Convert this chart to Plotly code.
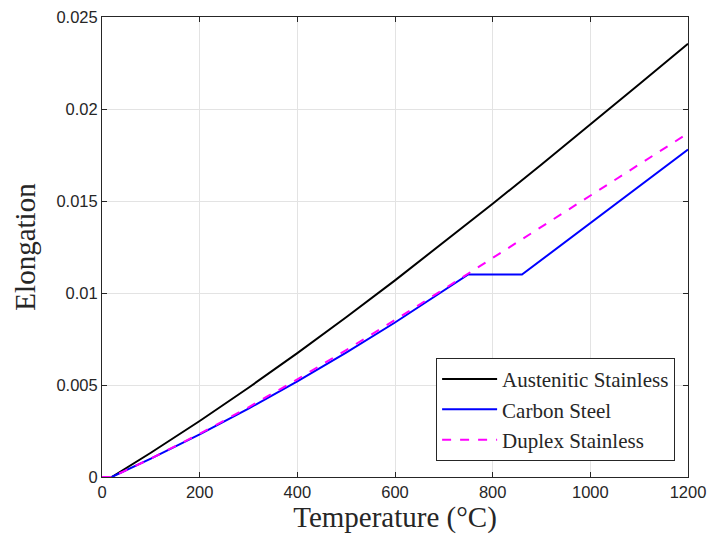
import plotly.graph_objects as go

# Temperature (deg C) and elongation values
aus_T = [20, 100, 200, 300, 400, 500, 600, 700, 800, 900, 1000, 1100, 1200]
aus_E = [0.0, 0.001317, 0.003044, 0.004851, 0.006733, 0.008680, 0.010687,
         0.012746, 0.014849, 0.016988, 0.019156, 0.021346, 0.023550]

cs_T = [20, 100, 200, 300, 400, 500, 600, 700, 750, 860, 900, 1000, 1100, 1200]
cs_E = [0.0, 0.000998, 0.002318, 0.003718, 0.005198, 0.006758, 0.008398,
        0.010118, 0.011008, 0.011000, 0.011800, 0.013800, 0.015800, 0.017800]

dup_T = [0, 20, 100, 200, 300, 400, 500, 600, 700, 750, 800, 900, 1000, 1100, 1200]
dup_E = [0.0, 0.0, 0.00100, 0.00235, 0.00379, 0.00531, 0.00690, 0.00853,
         0.01021, 0.01106, 0.01190, 0.01358, 0.01527, 0.01697, 0.01868]

x_ticks = [0, 200, 400, 600, 800, 1000, 1200]
y_ticks = [0, 0.005, 0.01, 0.015, 0.02, 0.025]
y_tick_text = ["0", "0.005", "0.01", "0.015", "0.02", "0.025"]

fig = go.Figure()
fig.add_trace(go.Scatter(x=aus_T, y=aus_E, mode="lines", name="Austenitic Stainless",
                         line=dict(color="black", width=2)))
fig.add_trace(go.Scatter(x=cs_T, y=cs_E, mode="lines", name="Carbon Steel",
                         line=dict(color="blue", width=2)))
fig.add_trace(go.Scatter(x=dup_T, y=dup_E, mode="lines", name="Duplex Stainless",
                         line=dict(color="magenta", width=2, dash="dash")))

axis_common = dict(
    showline=True, linecolor="#262626", linewidth=1, mirror="ticks",
    ticks="inside", ticklen=5, tickcolor="#262626", automargin=False,
    showgrid=True, gridcolor="#e3e3e3", gridwidth=1, zeroline=False,
    tickfont=dict(family="Liberation Sans, Arial, sans-serif", size=16.5, color="#262626"),
)

fig.update_xaxes(range=[0, 1200], tickvals=x_ticks, ticktext=[str(v) for v in x_ticks],
                 title=dict(text="Temperature (°C)", standoff=6,
                            font=dict(family="Liberation Serif, Times New Roman, serif",
                                      size=29, color="#262626")),
                 **axis_common)
fig.update_yaxes(range=[0, 0.025], tickvals=y_ticks, ticktext=y_tick_text,
                 title=dict(text="Elongation", standoff=12,
                            font=dict(family="Liberation Serif, Times New Roman, serif",
                                      size=29, color="#262626")),
                 **axis_common)

fig.update_layout(
    width=711, height=540,
    margin=dict(l=102, r=23, t=17, b=63),
    paper_bgcolor="white", plot_bgcolor="white",
    showlegend=True,
    legend=dict(x=0.978, y=0.035, xanchor="right", yanchor="bottom",
                bgcolor="white", bordercolor="#262626", borderwidth=1,
                font=dict(family="Liberation Serif, Times New Roman, serif", size=21, color="#262626"),
                tracegroupgap=0, itemwidth=55),
)

fig.write_html("out.html")
